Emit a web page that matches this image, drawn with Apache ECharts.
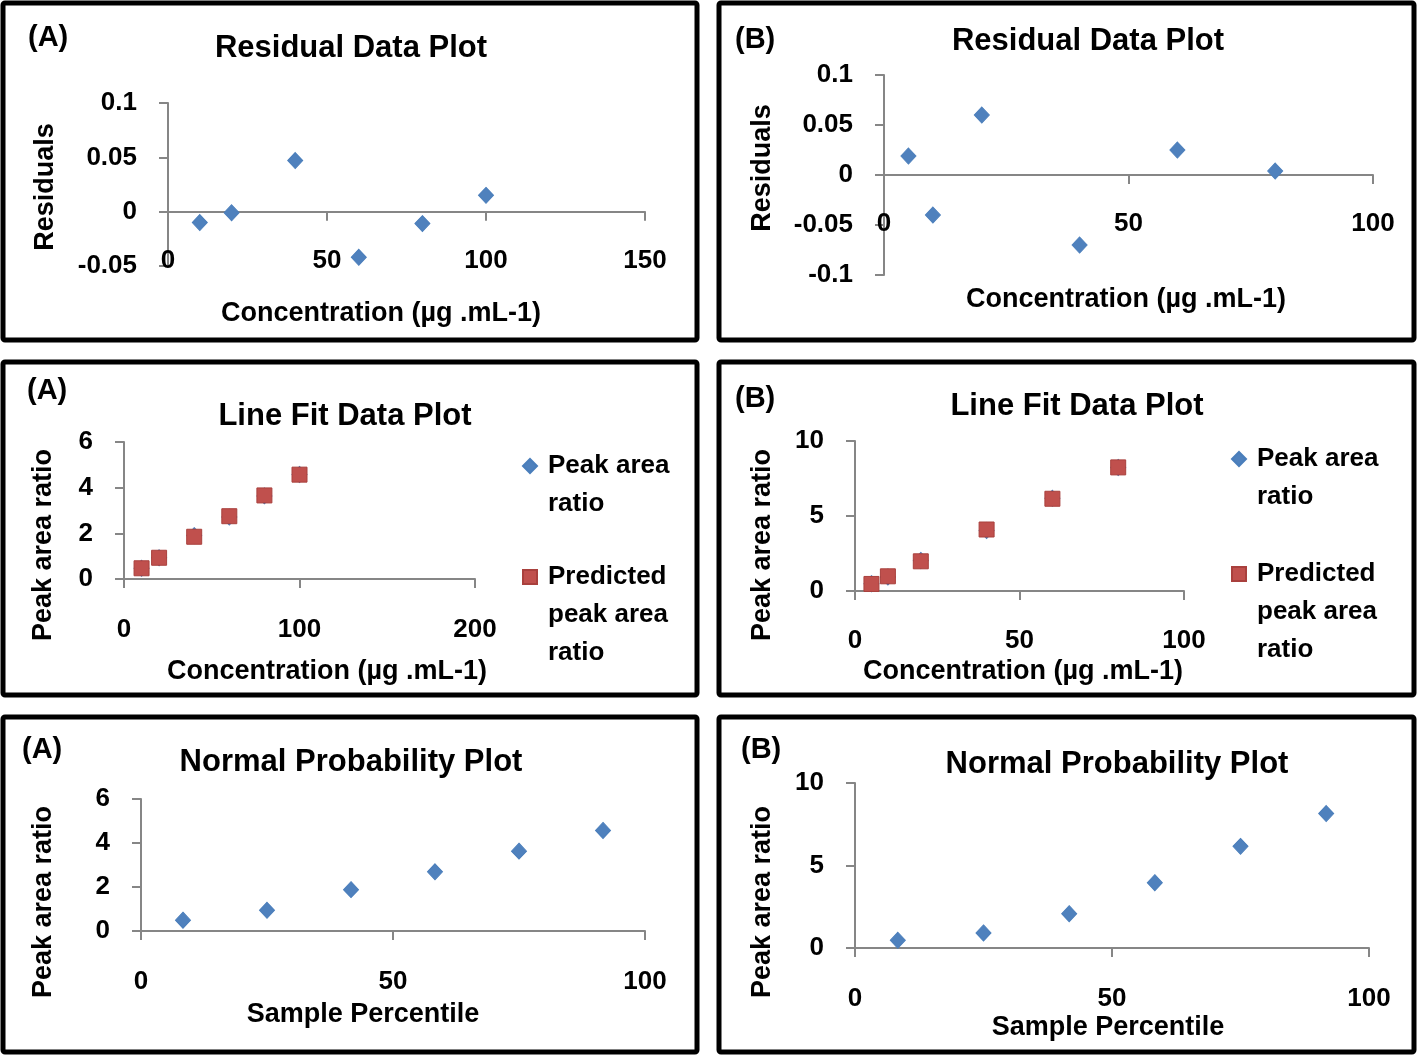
<!DOCTYPE html>
<html>
<head>
<meta charset="utf-8">
<script src="https://cdn.jsdelivr.net/npm/echarts@6/dist/echarts.min.js"></script>
<style>
html, body { margin: 0; padding: 0; background: #fff; }
#main { width: 1418px; height: 1057px; }
</style>
</head>
<body>
<div id="main"></div>
<script>
// concentrations (x) for the two methods
var concA = [10, 20, 40, 60, 80, 100];
var concB = [5, 10, 20, 40, 60, 80];
// residuals
var residA = [-0.010, -0.001, 0.047, -0.042, -0.011, 0.015];
var residB = [0.019, -0.040, 0.060, -0.070, 0.025, 0.004];
// line fit: observed and predicted peak area ratio
var peakA = [0.47, 0.93, 1.90, 2.71, 3.64, 4.58];
var predA = [0.47, 0.93, 1.85, 2.75, 3.66, 4.57];
var peakB = [0.49, 0.94, 2.04, 4.03, 6.18, 8.24];
var predB = [0.47, 0.98, 1.98, 4.10, 6.15, 8.24];
// normal probability
var percentile = [8.33, 25, 41.67, 58.33, 75, 91.67];
var normA = [0.49, 0.94, 1.88, 2.69, 3.63, 4.57];
var normB = [0.47, 0.91, 2.08, 3.96, 6.16, 8.15];

var FONT = '"Liberation Sans", Arial, sans-serif';
var BLUE = '#4F81BD', RED = '#C0504D', AXIS = '#868686';

function pairs(xs, ys) {
	var out = [];
	for (var i = 0; i < xs.length; i++) out.push([xs[i], ys[i]]);
	return out;
}

// labelMargin: labels hang off the grid bottom edge
function xAx(gi, min, max, step, labelMargin) {
	return {
		type: 'value', gridIndex: gi, min: min, max: max, interval: step,
		splitLine: { show: false },
		axisLine: { onZero: true, lineStyle: { color: AXIS, width: 2 } },
		axisTick: { show: true, length: 9, lineStyle: { color: AXIS, width: 2 } },
		axisLabel: { margin: labelMargin, color: '#000', fontSize: 26, fontWeight: 'bold', fontFamily: FONT }
	};
}
function yAx(gi, min, max, step) {
	return {
		type: 'value', gridIndex: gi, min: min, max: max, interval: step,
		splitLine: { show: false },
		axisLine: { show: true, onZero: false, lineStyle: { color: AXIS, width: 2 } },
		axisTick: { show: true, length: 9, lineStyle: { color: AXIS, width: 2 } },
		axisLabel: { margin: 31, color: '#000', fontSize: 26, fontWeight: 'bold', fontFamily: FONT }
	};
}
function diamonds(name, gi, xs, ys) {
	return {
		name: name, type: 'scatter', xAxisIndex: gi, yAxisIndex: gi,
		symbol: 'diamond', symbolSize: [15, 16],
		itemStyle: { color: BLUE, borderColor: '#4A7EBB', borderWidth: 1, opacity: 1 },
		data: pairs(xs, ys)
	};
}
function squares(name, gi, xs, ys) {
	return {
		name: name, type: 'scatter', xAxisIndex: gi, yAxisIndex: gi,
		symbol: 'rect', symbolSize: 15,
		itemStyle: { color: RED, borderColor: '#A9403D', borderWidth: 1, opacity: 1 },
		data: pairs(xs, ys)
	};
}
function txt(x, y, s, size, align, rot) {
	return {
		type: 'text', x: x, y: y, rotation: rot || 0, z: 10,
		style: { text: s, fill: '#000', fontSize: size, fontWeight: 'bold', fontFamily: FONT,
			align: align || 'center', verticalAlign: 'middle' }
	};
}
function box(x, y, w, h) {
	return { type: 'rect', shape: { x: x, y: y, width: w, height: h, r: 2 },
		style: { fill: 'none', stroke: '#000', lineWidth: 5 }, z: 5 };
}
// leading blank lines keep the icon level with the first text line
function legendItem(left, iconY, name, icon, lines) {
	var lh = 38, H = lh * (2 * lines - 1);
	return {
		left: left, top: iconY - H / 2, orient: 'vertical', padding: 0,
		itemWidth: 14, itemHeight: 14, selectedMode: false,
		data: [{ name: name, icon: icon }],
		formatter: function (n) {
			return n === 'Peak area ratio' ? '\nPeak area\nratio' : '\n\nPredicted\npeak area\nratio';
		},
		textStyle: { color: '#000', fontSize: 26, fontWeight: 'bold', fontFamily: FONT,
			lineHeight: lh, padding: [0, 0, 0, 6] }
	};
}

var Q = Math.PI / 2;
var option = {
	backgroundColor: '#fff',
	animation: false,
	grid: [
		{ left: 168, top: 103, width: 477, height: 163 },
		{ left: 884, top: 75, width: 489, height: 200 },
		{ left: 124, top: 442, width: 351, height: 137 },
		{ left: 855, top: 441, width: 329, height: 150 },
		{ left: 141, top: 799, width: 504, height: 132 },
		{ left: 855, top: 783, width: 514, height: 165 }
	],
	xAxis: [xAx(0, 0, 150, 50, -18), xAx(1, 0, 100, 50, -64), xAx(2, 0, 200, 100, 38),
		xAx(3, 0, 100, 50, 37), xAx(4, 0, 100, 50, 38), xAx(5, 0, 100, 50, 38)],
	yAxis: [yAx(0, -0.05, 0.1, 0.05), yAx(1, -0.1, 0.1, 0.05), yAx(2, 0, 6, 2),
		yAx(3, 0, 10, 5), yAx(4, 0, 6, 2), yAx(5, 0, 10, 5)],
	legend: [
		legendItem(522, 466, 'Peak area ratio', 'diamond', 2),
		legendItem(522, 577, 'Predicted peak area ratio', 'rect', 3),
		legendItem(1231, 459, 'Peak area ratio', 'diamond', 2),
		legendItem(1231, 574, 'Predicted peak area ratio', 'rect', 3)
	],
	series: [
		diamonds('Residuals A', 0, concA, residA),
		diamonds('Residuals B', 1, concB, residB),
		diamonds('Peak area ratio', 2, concA, peakA),
		squares('Predicted peak area ratio', 2, concA, predA),
		diamonds('Peak area ratio', 3, concB, peakB),
		squares('Predicted peak area ratio', 3, concB, predB),
		diamonds('Normal A', 4, percentile, normA),
		diamonds('Normal B', 5, percentile, normB)
	],
	graphic: [
		box(3, 3, 694, 337), box(719, 3, 695, 337),
		box(3, 362, 694, 333), box(719, 362, 695, 333),
		box(3, 717, 694, 335), box(719, 717, 695, 335),

		txt(28, 38, '(A)', 29, 'left'),
		txt(351, 48, 'Residual Data Plot', 31),
		txt(46, 187, 'Residuals', 27, 'center', Q),
		txt(381, 314, 'Concentration (µg .mL-1)', 27),

		txt(735, 40, '(B)', 29, 'left'),
		txt(1088, 41, 'Residual Data Plot', 31),
		txt(763, 168, 'Residuals', 27, 'center', Q),
		txt(1126, 300, 'Concentration (µg .mL-1)', 27),

		txt(27, 391, '(A)', 29, 'left'),
		txt(345, 416, 'Line Fit Data Plot', 31),
		txt(44, 545, 'Peak area ratio', 27, 'center', Q),
		txt(327, 672, 'Concentration (µg .mL-1)', 27),

		txt(735, 399, '(B)', 29, 'left'),
		txt(1077, 406, 'Line Fit Data Plot', 31),
		txt(763, 545, 'Peak area ratio', 27, 'center', Q),
		txt(1023, 672, 'Concentration (µg .mL-1)', 27),

		txt(22, 750, '(A)', 29, 'left'),
		txt(351, 762, 'Normal Probability Plot', 31),
		txt(44, 902, 'Peak area ratio', 27, 'center', Q),
		txt(363, 1015, 'Sample Percentile', 27),

		txt(741, 750, '(B)', 29, 'left'),
		txt(1117, 764, 'Normal Probability Plot', 31),
		txt(763, 902, 'Peak area ratio', 27, 'center', Q),
		txt(1108, 1028, 'Sample Percentile', 27)
	]
};

var chart = echarts.init(document.getElementById('main'));
chart.setOption(option);
</script>
</body>
</html>
